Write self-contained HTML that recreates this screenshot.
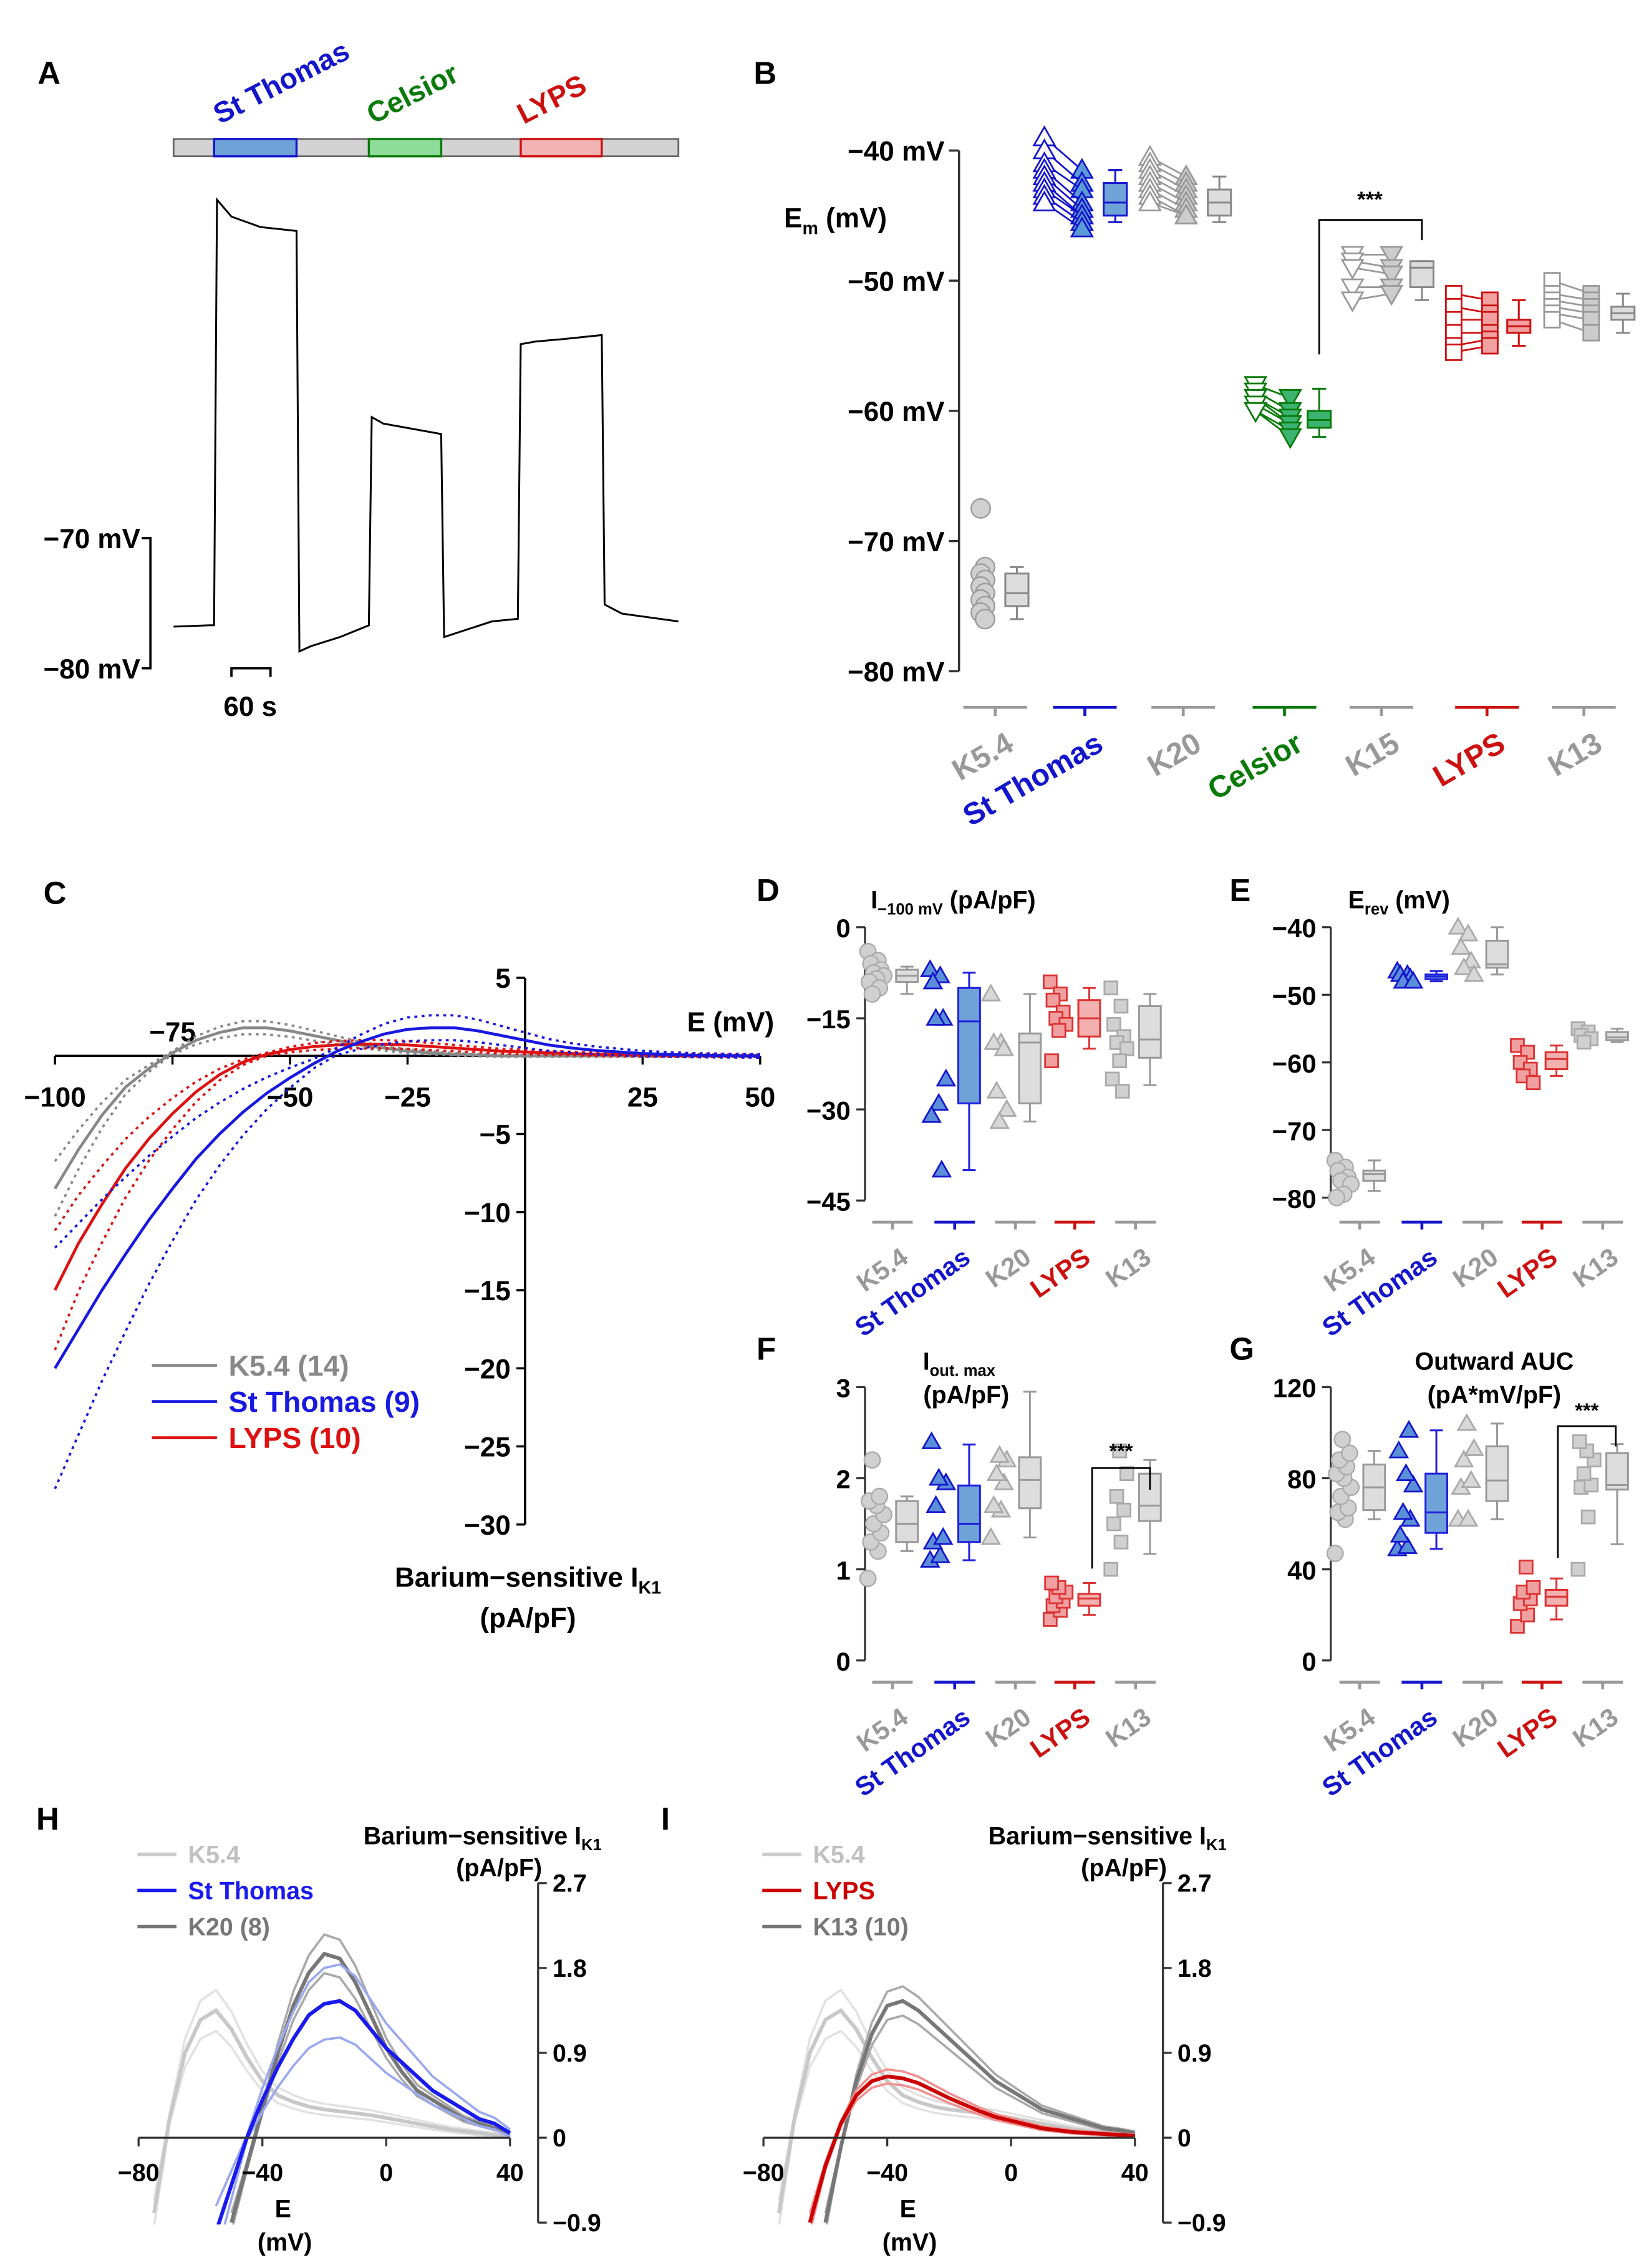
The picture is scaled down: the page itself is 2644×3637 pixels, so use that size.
<!DOCTYPE html>
<html><head><meta charset="utf-8">
<style>
html,body{margin:0;padding:0;background:#fff;}
svg{display:block;font-family:"Liberation Sans",Arial,sans-serif;font-weight:bold;}
</style></head>
<body>
<svg id="fig" xmlns="http://www.w3.org/2000/svg" width="2644" height="3637" viewBox="0 0 1140 1568"></svg>
<script>
// ===== DATA =====
const traceT=[0,55.6,62.2,66.7,88.9,133.3,188.9,193.3,211.1,255.6,300,304.4,322.2,366.7,411.1,415.6,440,488.9,528.9,533.3,555.6,600,657.8,662.2,688.9,775.6];
const traceV=[-76.8,-76.7,-76.7,-44.0,-45.3,-46.1,-46.4,-78.7,-78.3,-77.6,-76.7,-60.7,-61.2,-61.6,-62.0,-77.6,-77.2,-76.4,-76.2,-55.1,-54.9,-54.7,-54.4,-75.1,-75.8,-76.4];

const bCats=['K5.4','St Thomas','K20','Celsior','K15','LYPS','K13'];
const bK54=[-67.5,-72,-72.5,-73,-73.5,-74,-74.5,-75,-75.5,-76];
const bStTa=[-39,-40,-41,-41.5,-42,-42.5,-43,-43.5,-44];
const bStTb=[-41.5,-42.5,-43,-44,-44.5,-45,-45,-45.5,-46];
const bK20a=[-40.5,-41,-41.5,-42,-42.5,-43,-43.5,-44];
const bK20b=[-42,-42.5,-43,-43.5,-44,-44.5,-45,-45];
const bCela=[-58,-58.5,-59,-59,-59.5,-60,-60];
const bCelb=[-59,-60,-60.5,-61,-61,-61.5,-62];
const bK15a=[-48,-48.5,-49,-50.5,-51.5];
const bK15b=[-48,-49,-49.5,-50.5,-51];
const bLYa=[-51,-52,-53,-54,-55,-55.5];
const bLYb=[-51.5,-52.5,-53,-54,-54.5,-55];
const bK13a=[-50,-51,-51.5,-52,-52.5,-53];
const bK13b=[-51,-51.5,-52,-52.5,-53,-54];
const bBoxes=[[-76,-75,-74,-72.5,-72],[-45.5,-45,-44,-42.5,-41.5],[-45.5,-45,-44,-43,-42],[-62,-61.3,-60.7,-60,-58.3],[-51.5,-50.5,-49,-48.5,-48.5],[-55,-54,-53.5,-53,-51.5],[-54,-53,-52.5,-52,-51]];
const bTicks=[-40,-50,-60,-70,-80];

const cE=[-100,-95,-90,-85,-80,-75,-70,-65,-60,-55,-50,-45,-40,-35,-30,-25,-20,-15,-10,-5,0,5,10,15,20,25,30,35,40,45,50];
const cGray=[-8.5,-6,-3.8,-2,-0.8,0.2,1,1.5,1.8,1.8,1.6,1.3,1,0.7,0.5,0.3,0.2,0.1,0.05,0,0,0,0,0,0,0,0,0,0,0,0];
const cBlue=[-20,-17.5,-15,-12.7,-10.5,-8.5,-6.6,-5,-3.6,-2.4,-1.4,-0.5,0.3,0.9,1.4,1.7,1.8,1.8,1.6,1.3,1.0,0.7,0.5,0.35,0.25,0.15,0.1,0.05,0.03,0.01,0];
const cRed=[-15,-12,-9.5,-7.2,-5.3,-3.7,-2.3,-1.2,-0.4,0.1,0.4,0.6,0.7,0.75,0.75,0.7,0.6,0.5,0.4,0.3,0.25,0.2,0.15,0.1,0.08,0.05,0.03,0.02,0.01,0,0];
const cXTicks=[-100,-75,-50,-25,25,50];
const cYTicks=[5,-5,-10,-15,-20,-25,-30];

const dCats=['K5.4','St Thomas','K20','LYPS','K13'];
const dPts=[[-4,-5.5,-6,-7,-7.5,-8,-8.5,-9,-10,-11],[-7,-8,-9,-15,-15,-25,-29,-31,-40],[-11,-19,-19,-20,-27,-30,-32],[-9,-11,-12,-14,-15,-16,-17,-22],[-10,-13,-16,-18,-19,-20,-22,-25,-27]];
const dBox=[[-11,-9,-8,-7,-6.5],[-40,-29,-15.5,-10,-7.5],[-32,-29,-19,-17.5,-11],[-20,-18,-15,-12,-10],[-26,-21.5,-18.5,-13,-11]];
const ePts=[[-74.5,-75.5,-76,-77,-77.5,-78,-79.5,-80],[-46.5,-47,-47,-47.5,-48,-48],[-40,-41,-43,-45,-46,-47],[-57.5,-58.5,-60,-61,-62,-63],[-55,-55.5,-56,-56.5,-57]];
const eBox=[[-79,-77.5,-76.5,-76,-74.5],[-48,-47.7,-47.3,-47,-46.5],[-47,-46,-45.5,-42,-40],[-62,-61,-59.5,-58.5,-57.5],[-57,-56.7,-56.3,-55.5,-55]];
const fPts=[[0.9,1.2,1.3,1.4,1.5,1.6,1.7,1.75,1.8,2.2],[1.1,1.15,1.3,1.35,1.7,1.95,2.0,2.4],[1.35,1.65,1.7,1.95,2.05,2.2,2.25],[0.45,0.55,0.6,0.65,0.7,0.75,0.8,0.85],[1.0,1.3,1.5,1.65,1.8,2.05,2.3]];
const fBox=[[1.2,1.3,1.5,1.75,1.8],[1.1,1.3,1.5,1.92,2.37],[1.35,1.67,1.98,2.23,2.95],[0.5,0.6,0.68,0.73,0.85],[1.17,1.53,1.7,2.05,2.2]];
const gPts=[[47,62,65,67,72,76,80,82,85,88,91,97],[49,50,55,62,65,77,82,92,101],[62,62,76,79,88,93,104],[15,20,25,27,30,32,41],[40,63,76,77,82,88,92,96]];
const gBox=[[62,66,76,86,92],[49,56,65,82,101],[62,70,79,94,104],[18,24,28,31,36],[51,75,77,91,95]];

const hE0=[-75,-55,-50];
const hK54=[-0.8,0.2,0.9,1.25,1.35,1.15,0.85,0.6,0.45,0.38,0.33,0.3,0.28,0.26,0.24,0.21,0.18,0.15,0.12,0.09,0.07,0.05,0.03,0.01];
const hStT=[-1.0,-0.5,0,0.4,0.75,1.05,1.3,1.42,1.45,1.35,1.15,0.95,0.8,0.65,0.5,0.4,0.3,0.2,0.15,0.05];
const hK20=[-0.9,-0.3,0.3,0.9,1.4,1.75,1.95,1.9,1.65,1.3,0.95,0.7,0.5,0.4,0.3,0.2,0.15,0.1,0.05];
const iE0=[-75,-65,-60];
const iLY=[-0.9,-0.3,0.15,0.45,0.6,0.65,0.63,0.58,0.5,0.42,0.35,0.28,0.22,0.18,0.14,0.1,0.08,0.06,0.05,0.04,0.03,0.02];
const iK13=[-0.9,-0.1,0.6,1.1,1.4,1.45,1.35,1.2,1.05,0.9,0.75,0.6,0.5,0.4,0.3,0.25,0.2,0.15,0.1,0.08,0.05];
const hYTicks=[2.7,1.8,0.9,0,-0.9];
const hXTicks=[-80,-40,0,40];

// ===== HELPERS =====
const NS='http://www.w3.org/2000/svg';
const svg=document.getElementById('fig');
function mk(tag,attrs,parent){const e=document.createElementNS(NS,tag);for(const k in attrs)e.setAttribute(k,attrs[k]);(parent||svg).appendChild(e);return e;}
function txt(x,y,s,attrs){const e=mk('text',Object.assign({x:x,y:y},attrs||{}));e.textContent=s;return e;}
// text with subscript: parts = [main, sub, rest]
function subTxt(x,y,main,sub,rest,size,attrs){
  const e=mk('text',Object.assign({x:x,y:y,'font-size':size},attrs||{}));
  const a=mk('tspan',{},e);a.textContent=main;
  const b=mk('tspan',{'font-size':size*0.65,dy:size*0.25},b0=e);b.textContent=sub;
  const c=mk('tspan',{dy:-size*0.25},e);c.textContent=rest;
  return e;
}
let b0;
const GRAY='#999',BLUE='#1515cc',RED='#cc1111',GREEN='#0a7a0a';
function marker(shape,x,y,s,fill,stroke){
  let e;
  if(shape==='circle') e=mk('circle',{cx:x,cy:y,r:s*0.55,fill:fill,stroke:stroke,'stroke-width':1});
  else if(shape==='up') e=mk('polygon',{points:`${x},${y-s*0.6} ${x-s*0.6},${y+s*0.45} ${x+s*0.6},${y+s*0.45}`,fill:fill,stroke:stroke,'stroke-width':1.2});
  else if(shape==='down') e=mk('polygon',{points:`${x},${y+s*0.6} ${x-s*0.6},${y-s*0.45} ${x+s*0.6},${y-s*0.45}`,fill:fill,stroke:stroke,'stroke-width':1.2});
  else e=mk('rect',{x:x-s*0.45,y:y-s*0.45,width:s*0.9,height:s*0.9,fill:fill,stroke:stroke,'stroke-width':1.2});
  return e;
}
function box(x,w,st,yf,fill,stroke){
  const g=mk('g',{});
  mk('line',{x1:x,x2:x,y1:yf(st[0]),y2:yf(st[1]),stroke:stroke,'stroke-width':1.3},g);
  mk('line',{x1:x,x2:x,y1:yf(st[3]),y2:yf(st[4]),stroke:stroke,'stroke-width':1.3},g);
  mk('line',{x1:x-w*0.3,x2:x+w*0.3,y1:yf(st[0]),y2:yf(st[0]),stroke:stroke,'stroke-width':1.3},g);
  mk('line',{x1:x-w*0.3,x2:x+w*0.3,y1:yf(st[4]),y2:yf(st[4]),stroke:stroke,'stroke-width':1.3},g);
  const y1=yf(st[3]),y2=yf(st[1]);
  mk('rect',{x:x-w/2,y:Math.min(y1,y2),width:w,height:Math.max(Math.abs(y2-y1),1.5),fill:fill,stroke:stroke,'stroke-width':1.3},g);
  mk('line',{x1:x-w/2,x2:x+w/2,y1:yf(st[2]),y2:yf(st[2]),stroke:stroke,'stroke-width':1.3},g);
  return g;
}
function poly(xs,ys,attrs){return mk('polyline',Object.assign({points:xs.map((x,i)=>x+','+ys[i]).join(' '),fill:'none'},attrs));}
let el;

// ===== PANEL A =====
el=txt(26,58,'A',{'font-size':22});


el=mk('rect',{x:120,y:96,width:349,height:12,fill:'#d3d3d3',stroke:'#666','stroke-width':1.2});


const segs=[[148,205,'#6fa3d8',BLUE,'St Thomas',152],[255,305,'#8fdc9a',GREEN,'Celsior',258],[360,416,'#f2b3b3',RED,'LYPS',362]];
segs.forEach(s=>{
  el=mk('rect',{x:s[0],y:96,width:s[1]-s[0],height:12,fill:s[2],stroke:s[3],'stroke-width':1.5});
  
  
  el=txt(s[5],86,s[4],{'font-size':20,fill:s[3],transform:`rotate(-27 ${s[5]} 86)`});
  
  
});
const ax=t=>120+t*0.45, ayA=v=>372+(-70-v)*9;
el=poly(traceT.map(ax),traceV.map(ayA),{stroke:'#000','stroke-width':1.3});


el=mk('path',{d:`M98,${ayA(-70)} H104 V${ayA(-80)} H98`,fill:'none',stroke:'#000','stroke-width':1.6});


el=txt(97,ayA(-70)+7,'−70 mV',{'font-size':19,'text-anchor':'end'});


el=txt(97,ayA(-80)+7,'−80 mV',{'font-size':19,'text-anchor':'end'});


el=mk('path',{d:`M160,468 V462 H187 V468`,fill:'none',stroke:'#000','stroke-width':1.6});


el=txt(173,495,'60 s',{'font-size':19,'text-anchor':'middle'});



// ===== PANEL B =====
el=txt(521,58,'B',{'font-size':22});


const byf=v=>104+(-40-v)*9;
el=mk('line',{x1:663,x2:663,y1:byf(-40),y2:byf(-80),stroke:'#333','stroke-width':1.5});


bTicks.forEach(t=>{
  el=mk('line',{x1:656,x2:663,y1:byf(t),y2:byf(t),stroke:'#333','stroke-width':1.5});
  
  
  el=txt(653,byf(t)+7,'−'+Math.abs(t)+' mV',{'font-size':19,'text-anchor':'end'});
  
  
});
el=subTxt(542,157,'E','m',' (mV)',19);


bK54.forEach((v,i)=>{
  el=marker('circle',678+(i%2)*3,byf(v),12,'#d0d0d0','#999');
  
  
});
const pairs=[[bStTa,bStTb,722,748,'up','#fff',BLUE,'#5b9bd5'],[bK20a,bK20b,795,820,'up','#fff',GRAY,'#ccc'],[bCela,bCelb,868,892,'down','#fff',GREEN,'#3cb371'],[bK15a,bK15b,935,962,'down','#fff',GRAY,'#ccc'],[bLYa,bLYb,1005,1030,'sq','#fff',RED,'#f2a0a0'],[bK13a,bK13b,1073,1100,'sq','#fff',GRAY,'#ccc']];
pairs.forEach(p=>{
  p[0].forEach((v,i)=>{
    el=mk('line',{x1:p[2],x2:p[3],y1:byf(v),y2:byf(p[1][i]),stroke:p[6],'stroke-width':1.2});
    
    
    el=marker(p[4],p[2],byf(v),12,p[5],p[6]);
    
    
    el=marker(p[4],p[3],byf(p[1][i]),12,p[7],p[6]);
    
    
  });
});
const bBoxX=[703,771,843,912,983,1050,1122];
const bBoxFill=['#ddd','#6fa3d8','#ddd','#3cb371','#ddd','#f2a0a0','#ddd'];
const bBoxStroke=['#888',BLUE,'#888',GREEN,'#888',RED,'#888'];
const bCatX=[688,750,818,888,955,1028,1095];
const bCatCol=[GRAY,BLUE,GRAY,GREEN,GRAY,RED,GRAY];
bBoxes.forEach((st,i)=>{
  el=box(bBoxX[i],16,st,byf,bBoxFill[i],bBoxStroke[i]);
  
  
  el=mk('path',{d:`M${bCatX[i]-22},489 H${bCatX[i]+22} M${bCatX[i]},489 V495`,stroke:bCatCol[i],'stroke-width':2,fill:'none'});
  
  
  el=txt(bCatX[i]+14,518,bCats[i],{'font-size':21,fill:bCatCol[i],'text-anchor':'end',transform:`rotate(-30 ${bCatX[i]+14} 518)`});
  
  
});
el=mk('path',{d:`M912,245 V152 H983 V166`,fill:'none',stroke:'#000','stroke-width':1.2});


el=txt(947,143,'***',{'font-size':15,'text-anchor':'middle'});



// ===== PANEL C =====
el=txt(30,625,'C',{'font-size':22});


const cx=e=>363+e*3.25, cy=i=>730-i*10.8;
el=mk('line',{x1:cx(-100),x2:cx(50),y1:cy(0),y2:cy(0),stroke:'#000','stroke-width':1.6});


el=mk('line',{x1:cx(0),x2:cx(0),y1:cy(5),y2:cy(-30),stroke:'#000','stroke-width':1.6});


cXTicks.forEach(t=>{
  el=mk('line',{x1:cx(t),x2:cx(t),y1:cy(0),y2:cy(0)+6,stroke:'#000','stroke-width':1.5});
  
  
  const above=(t===-75);
  el=txt(cx(t),above?cy(0)-10:cy(0)+35,t<0?'−'+Math.abs(t):String(t),{'font-size':19,'text-anchor':'middle'});
  
  
});
cYTicks.forEach(t=>{
  el=mk('line',{x1:cx(0),x2:cx(0)-6,y1:cy(t),y2:cy(t),stroke:'#000','stroke-width':1.5});
  
  
  el=txt(cx(0)-10,cy(t)+7,t<0?'−'+Math.abs(t):String(t),{'font-size':19,'text-anchor':'end'});
  
  
});
const cSeries=[[cGray,'#888',0.2],[cRed,'#dd1111',0.25],[cBlue,'#1818e0',0.38]];
cSeries.forEach(s=>{
  [1,-1].forEach(sg=>{
    el=poly(cE.map(cx),s[0].map(v=>cy(v+sg*s[2]*(Math.abs(v)+0.3))),{stroke:s[1],'stroke-width':1.6,'stroke-dasharray':'2 3'});
    
    
  });
  el=poly(cE.map(cx),s[0].map(cy),{stroke:s[1],'stroke-width':2});
  
  
});
el=txt(475,713,'E (mV)',{'font-size':19});


el=subTxt(365,1097,'Barium−sensitive I','K1','',19,{'text-anchor':'middle'});


el=txt(365,1125,'(pA/pF)',{'font-size':19,'text-anchor':'middle'});


[['K5.4 (14)','#888',950],['St Thomas (9)','#1818e0',975],['LYPS (10)','#dd1111',1000]].forEach(l=>{
  el=mk('line',{x1:105,x2:150,y1:l[2]-6,y2:l[2]-6,stroke:l[1],'stroke-width':2});
  
  
  el=txt(158,l[2]+1,l[0],{'font-size':20,fill:l[1]});
  
  
});

// ===== PANELS D-G =====
const catCols=[GRAY,BLUE,GRAY,RED,GRAY];
const shapes=['circle','up','up','sq','sq'];
const ptFill=['#d0d0d0','#5b8fd8','#d8d8d8','#f0a0a0','#d0d0d0'];
const ptStroke=['#aaa',BLUE,'#aaa','#dd3333','#aaa'];
const bxFill=['#ddd','#6fa3d8','#ddd','#f2b0b0','#ddd'];
const bxStroke=['#999','#2020dd','#999','#dd3333','#999'];
function smallPanel(id,axX,yTop,yBot,vTop,vBot,ticks,tickFmt,pts,boxes,catsX,catY,labY){
  const yf=v=>yTop+(vTop-v)/(vTop-vBot)*(yBot-yTop);
  el=mk('line',{x1:axX,x2:axX,y1:yTop,y2:yBot,stroke:'#333','stroke-width':1.4});
  
  
  ticks.forEach(t=>{
    el=mk('line',{x1:axX-6,x2:axX,y1:yf(t),y2:yf(t),stroke:'#333','stroke-width':1.4});
    
    
    el=txt(axX-10,yf(t)+7,tickFmt(t),{'font-size':18,'text-anchor':'end'});
    
    
  });
  pts.forEach((arr,ci)=>{
    arr.forEach((v,j)=>{
      el=marker(shapes[ci],catsX[ci]-12+((j*7)%12)-5,yf(v),10,ptFill[ci],ptStroke[ci]);
      
      
    });
    el=box(catsX[ci]+10,15,boxes[ci],yf,bxFill[ci],bxStroke[ci]);
    
    
    el=mk('path',{d:`M${catsX[ci]-14},${catY} H${catsX[ci]+14} M${catsX[ci]},${catY} V${catY+5}`,stroke:catCols[ci],'stroke-width':2,fill:'none'});
    
    
    el=txt(catsX[ci]+12,labY,dCats[ci],{'font-size':18,fill:catCols[ci],'text-anchor':'end',transform:`rotate(-35 ${catsX[ci]+12} ${labY})`});
    
    
  });
  return yf;
}
const neg=t=>t<0?'−'+Math.abs(t):String(t);
const dX=[617,660,702,743,785], eX=[940,983,1025,1066,1108];
smallPanel('d',598,641,830,0,-45,[0,-15,-30,-45],neg,dPts,dBox,dX,845,872);
smallPanel('e',920,641,828,-40,-80,[-40,-50,-60,-70,-80],neg,ePts,eBox,eX,845,872);
const fyf=smallPanel('f',598,959,1148,3,0,[0,1,2,3],neg,fPts,fBox,dX,1163,1190);
const gyf=smallPanel('g',920,959,1148,120,0,[0,40,80,120],neg,gPts,gBox,eX,1163,1190);
[['D',523,623],['E',850,623],['F',523,940],['G',850,940]].forEach(l=>{
  el=txt(l[1],l[2],l[0],{'font-size':22});
  
  
});
el=subTxt(602,628,'I','−100 mV',' (pA/pF)',17);


el=subTxt(932,628,'E','rev',' (mV)',17);


el=subTxt(638,947,'I','out. max','',17);


el=txt(668,970,'(pA/pF)',{'font-size':17,'text-anchor':'middle'});


el=txt(1033,947,'Outward AUC',{'font-size':17,'text-anchor':'middle'});


el=txt(1033,970,'(pA*mV/pF)',{'font-size':17,'text-anchor':'middle'});


el=mk('path',{d:`M755,${fyf(0.85)-10} V1015 H795 V1030`,fill:'none',stroke:'#000','stroke-width':1.2});


el=txt(775,1008,'***',{'font-size':14,'text-anchor':'middle'});


el=mk('path',{d:`M1077,${gyf(45)} V986 H1117 V1000`,fill:'none',stroke:'#000','stroke-width':1.2});


el=txt(1097,980,'***',{'font-size':14,'text-anchor':'middle'});



// ===== PANELS H & I =====
function ivPanel(id,off,series,legend,letter){
  const hx=e=>267+off+e*2.14, hy=v=>1478-v*65.2;
  el=txt(25+off,1265,letter,{'font-size':22});
  
  
  const clip=mk('clipPath',{id:'clip'+id});
  mk('rect',{x:hx(-82),y:hy(2.75),width:hx(42)-hx(-82),height:hy(-0.92)-hy(2.75)},clip);
  const g=mk('g',{'clip-path':`url(#clip${id})`});
  series.forEach(s=>{
    const xs=s[1].map((v,i)=>hx(s[0]+i*5));
    [1,-1].forEach(sg=>{
      el=poly(xs,s[1].map(v=>hy(v+sg*s[4]*(Math.abs(v)+0.1))),{stroke:s[3],'stroke-width':1.6});
      g.appendChild(el);
      
      
    });
    el=poly(xs,s[1].map(hy),{stroke:s[2],'stroke-width':2.6});
    g.appendChild(el);
    
    
  });
  el=mk('line',{x1:hx(-80),x2:hx(40),y1:hy(0),y2:hy(0),stroke:'#333','stroke-width':1.4});
  
  
  hXTicks.forEach(t=>{
    el=mk('line',{x1:hx(t),x2:hx(t),y1:hy(0),y2:hy(0)+6,stroke:'#333','stroke-width':1.4});
    
    
    el=txt(hx(t),1508,neg(t),{'font-size':17,'text-anchor':'middle'});
    
    
  });
  el=mk('line',{x1:372+off,x2:372+off,y1:hy(2.7),y2:hy(-0.9),stroke:'#333','stroke-width':1.4});
  
  
  hYTicks.forEach(t=>{
    el=mk('line',{x1:372+off,x2:378+off,y1:hy(t),y2:hy(t),stroke:'#333','stroke-width':1.4});
    
    
    el=txt(382+off,hy(t)+6,t===0?'0':(t<0?'−'+Math.abs(t):String(t)),{'font-size':17});
    
    
  });
  el=txt(190+off,1533,'E',{'font-size':17});
  
  
  el=txt(178+off,1556,'(mV)',{'font-size':17});
  
  
  el=subTxt(416+off,1275,'Barium−sensitive I','K1','',17,{'text-anchor':'end'});
  
  
  el=txt(345+off,1297,'(pA/pF)',{'font-size':17,'text-anchor':'middle'});
  
  
  legend.forEach((l,i)=>{
    const y=1282+i*25;
    el=mk('line',{x1:95+off,x2:122+off,y1:y,y2:y,stroke:l[1],'stroke-width':2.4});
    
    
    el=txt(130+off,y+6,l[0],{'font-size':17,fill:l[2]});
    
    
  });
}
ivPanel('h',0,[[hE0[0],hK54,'#c8c8c8','#e2e2e2',0.15],[hE0[2],hK20,'#777','#aaa',0.1],[hE0[1],hStT,'#1a1aee','#9aa8f0',0.25]],
  [['K5.4','#ccc','#c0c0c0'],['St Thomas','#1a1aee','#1a1aee'],['K20 (8)','#777','#777']],'H');
ivPanel('i',432,[[iE0[0],hK54,'#c8c8c8','#e2e2e2',0.15],[iE0[2],iK13,'#777','#aaa',0.1],[iE0[1],iLY,'#cc0000','#f09090',0.1]],
  [['K5.4','#ccc','#c0c0c0'],['LYPS','#cc0000','#cc0000'],['K13 (10)','#777','#777']],'I');
</script>
</body></html>
